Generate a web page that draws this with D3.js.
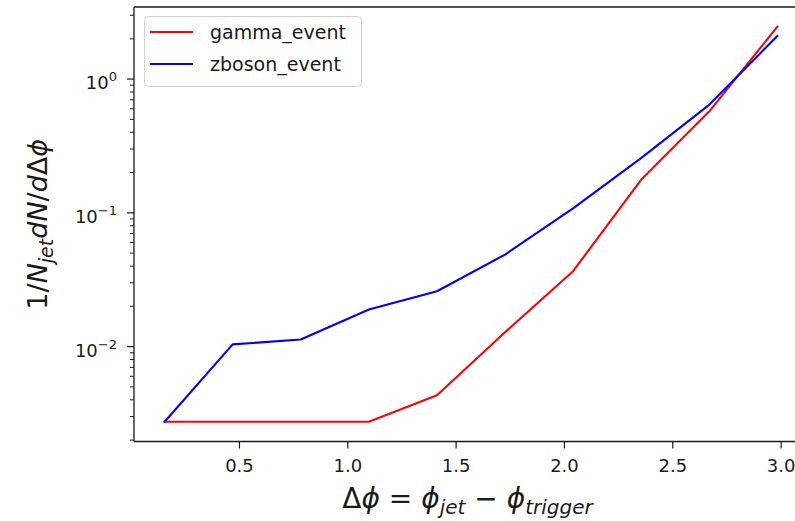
<!DOCTYPE html>
<html>
<head>
<meta charset="utf-8">
<script src="https://cdn.jsdelivr.net/npm/d3@7/dist/d3.min.js"></script>
<style>
  html, body { margin: 0; padding: 0; background: #ffffff; }
  svg { display: block; }
  text { font-family: "DejaVu Sans", sans-serif; fill: #1a1a1a; }
</style>
</head>
<body>
<svg id="chart" width="795" height="521"></svg>
<script>
// Azimuthal separation bin centres (radians)
const deltaPhi = [0.157, 0.471, 0.785, 1.100, 1.414, 1.728, 2.042, 2.356, 2.670, 2.985];
// Normalised jet yields per bin
const gammaEvent  = [0.00272, 0.00272, 0.00272, 0.00272, 0.00429, 0.0127, 0.0363, 0.175, 0.567, 2.44];
const zbosonEvent = [0.00272, 0.0103, 0.0112, 0.0188, 0.0257, 0.0483, 0.107, 0.254, 0.636, 2.08];
// Axis ticks
const xTicks = [0.5, 1.0, 1.5, 2.0, 2.5, 3.0];
const xTickLabels = ["0.5", "1.0", "1.5", "2.0", "2.5", "3.0"];
const yTicks = [1e-2, 1e-1, 1e0];
const yTickExponents = ["\u22122", "\u22121", "0"];

const series = [
  { name: "gamma_event",  values: gammaEvent,  color: "#ff0000" },
  { name: "zboson_event", values: zbosonEvent, color: "#0000ff" }
];

const svg = d3.select("#chart");
const plot = { left: 134, right: 808, top: 7, bottom: 441.5 };

// 5% padding around the data, linear in x and in log space for y
const xExt = d3.extent(deltaPhi);
const xPad = (xExt[1] - xExt[0]) * 0.05;
const x = d3.scaleLinear()
  .domain([xExt[0] - xPad, xExt[1] + xPad])
  .range([plot.left, plot.right]);

const allY = gammaEvent.concat(zbosonEvent).map(Math.log10);
const lyMin = d3.min(allY), lyMax = d3.max(allY);
const lyPad = (lyMax - lyMin) * 0.05;
const y = d3.scaleLog()
  .domain([Math.pow(10, lyMin - lyPad), Math.pow(10, lyMax + lyPad)])
  .range([plot.bottom, plot.top]);

// Data lines
const line = d3.line()
  .x((d, i) => x(deltaPhi[i]))
  .y(d => y(d));

svg.append("g").selectAll("path")
  .data(series)
  .join("path")
  .attr("d", d => line(d.values))
  .attr("fill", "none")
  .attr("stroke", d => d.color)
  .attr("stroke-width", 2.1)
  .attr("stroke-linejoin", "round")
  .attr("stroke-linecap", "square");

// X axis
const xAxis = svg.append("g")
  .attr("transform", `translate(0,${plot.bottom})`)
  .call(d3.axisBottom(x)
    .tickValues(xTicks)
    .tickFormat((d, i) => xTickLabels[i])
    .tickSize(7)
    .tickPadding(11));
xAxis.select(".domain").remove();
xAxis.selectAll(".tick line").attr("stroke", "#1a1a1a").attr("stroke-width", 1.2);
xAxis.selectAll(".tick text")
  .attr("font-size", 18)
  .style("font-family", "'DejaVu Sans', sans-serif")
  .attr("fill", "#1a1a1a");

// Y axis: minor ticks
const [d0, d1] = y.domain();
const minorTicks = [];
for (let e = Math.floor(Math.log10(d0)); e <= Math.ceil(Math.log10(d1)); e++) {
  for (let m = 2; m <= 9; m++) {
    const v = m * Math.pow(10, e);
    if (v >= d0 && v <= d1) minorTicks.push(v);
  }
}
const yMinor = svg.append("g")
  .attr("transform", `translate(${plot.left},0)`)
  .call(d3.axisLeft(y).tickValues(minorTicks).tickSize(4).tickFormat(""));
yMinor.select(".domain").remove();
yMinor.selectAll(".tick line").attr("stroke", "#1a1a1a").attr("stroke-width", 1);

// Y axis: major ticks with power-of-ten labels
const yMajor = svg.append("g")
  .attr("transform", `translate(${plot.left},0)`)
  .call(d3.axisLeft(y).tickValues(yTicks).tickSize(7).tickFormat(""));
yMajor.select(".domain").remove();
yMajor.selectAll(".tick line").attr("stroke", "#1a1a1a").attr("stroke-width", 1.2);
yMajor.selectAll(".tick").each(function (d, i) {
  const t = d3.select(this).append("text")
    .attr("x", -17)
    .attr("y", 10)
    .attr("text-anchor", "end")
    .attr("font-size", 18)
    .attr("fill", "#1a1a1a");
  t.append("tspan").text("10");
  t.append("tspan").attr("dy", -8).attr("font-size", 13).text(yTickExponents[i]);
});

// Frame (left, bottom, top spines; right spine sits beyond the canvas edge)
const spines = svg.append("g").attr("stroke", "#1a1a1a").attr("stroke-width", 1.3);
spines.append("line").attr("x1", plot.left).attr("x2", plot.left).attr("y1", plot.top).attr("y2", plot.bottom);
spines.append("line").attr("x1", plot.left).attr("x2", plot.right).attr("y1", plot.bottom).attr("y2", plot.bottom);
spines.append("line").attr("x1", plot.left).attr("x2", plot.right).attr("y1", plot.top).attr("y2", plot.top);
spines.append("line").attr("x1", plot.right).attr("x2", plot.right).attr("y1", plot.top).attr("y2", plot.bottom);

// Axis titles
const xl = svg.append("text")
  .attr("x", 467.5)
  .attr("y", 508)
  .attr("text-anchor", "middle")
  .attr("font-size", 28);
xl.append("tspan").text("\u0394");
xl.append("tspan").attr("font-style", "italic").text("\u03d5");
xl.append("tspan").text(" = ");
xl.append("tspan").attr("font-style", "italic").text("\u03d5");
xl.append("tspan").attr("font-style", "italic").attr("font-size", 20).attr("dy", 6).text("jet");
xl.append("tspan").attr("dy", -6).text(" \u2212 ");
xl.append("tspan").attr("font-style", "italic").text("\u03d5");
xl.append("tspan").attr("font-style", "italic").attr("font-size", 20).attr("dy", 6).text("trigger");

const yl = svg.append("text")
  .attr("transform", `translate(47,${(plot.top + plot.bottom) / 2}) rotate(-90)`)
  .attr("text-anchor", "middle")
  .attr("font-size", 27);
yl.append("tspan").text("1/");
yl.append("tspan").attr("font-style", "italic").text("N");
yl.append("tspan").attr("font-style", "italic").attr("font-size", 19).attr("dy", 6).text("jet");
yl.append("tspan").attr("font-style", "italic").attr("dy", -6).text("dN");
yl.append("tspan").text("/");
yl.append("tspan").attr("font-style", "italic").text("d");
yl.append("tspan").text("\u0394");
yl.append("tspan").attr("font-style", "italic").text("\u03d5");

// Legend
const legend = svg.append("g");
legend.append("rect")
  .attr("x", 144.5).attr("y", 16.5)
  .attr("width", 217).attr("height", 70)
  .attr("rx", 4)
  .attr("fill", "#ffffff").attr("fill-opacity", 0.8)
  .attr("stroke", "#d0d0d0").attr("stroke-width", 1);
series.forEach((s, i) => {
  const ly = 32 + i * 32;
  legend.append("line")
    .attr("x1", 150).attr("x2", 193)
    .attr("y1", ly).attr("y2", ly)
    .attr("stroke", s.color).attr("stroke-width", 2.1);
  legend.append("text")
    .attr("x", 210).attr("y", ly + 6.5)
    .attr("font-size", 19)
    .text(s.name);
});
</script>
</body>
</html>
